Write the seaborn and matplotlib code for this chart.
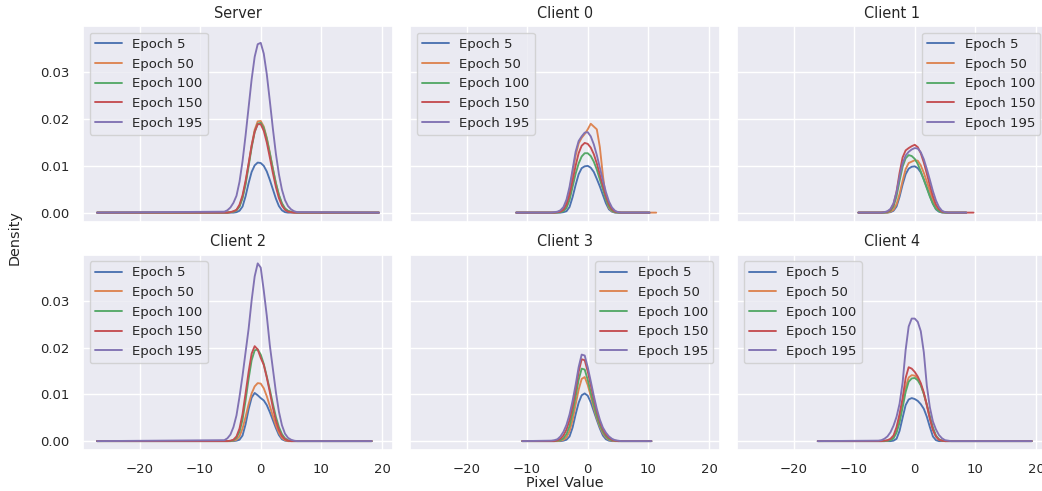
import matplotlib
matplotlib.use('Agg')
import matplotlib.pyplot as plt
import seaborn as sns

panels = ['Server', 'Client 0', 'Client 1', 'Client 2', 'Client 3', 'Client 4']
epochs = [5, 50, 100, 150, 195]
grid = [-6.0, -5.5, -5.0, -4.5, -4.0, -3.5, -3.0, -2.5, -2.0, -1.5, -1.0, -0.5,
        0.0, 0.5, 1.0, 1.5, 2.0, 2.5, 3.0, 3.5, 4.0, 4.5, 5.0, 5.5, 6.0]

# where each curve starts / ends (density ~0 out there)
tail_lo = [-27.0, -11.8, -9.3, -27.0, -10.8, -16.0]
tail_hi = [
    [19.5, 19.5, 19.5, 19.5, 19.5],
    [10.2, 11.3, 10.2, 10.2, 10.2],
    [8.5, 8.5, 8.5, 9.7, 8.5],
    [18.3, 18.3, 18.3, 18.3, 18.3],
    [10.5, 10.5, 10.5, 10.5, 10.5],
    [19.3, 19.3, 19.3, 19.3, 19.3],
]

server = [
    [0, 0, 0, 0, 0.0001, 0.0004, 0.0013, 0.0035, 0.0063, 0.0087, 0.0101, 0.0107, 0.0106,
     0.0100, 0.0088, 0.0070, 0.0050, 0.0030, 0.0014, 0.0005, 0.0001, 0, 0, 0, 0],
    [0, 0, 0.0001, 0.0002, 0.0005, 0.0014, 0.0033, 0.0064, 0.0103, 0.0144, 0.0177, 0.0195, 0.0196,
     0.0184, 0.0160, 0.0128, 0.0094, 0.0063, 0.0037, 0.0019, 0.0008, 0.0003, 0.0001, 0, 0],
    [0, 0, 0.0001, 0.0002, 0.0005, 0.0013, 0.0031, 0.0060, 0.0099, 0.0139, 0.0172, 0.0190, 0.0192,
     0.0181, 0.0158, 0.0127, 0.0094, 0.0063, 0.0038, 0.0020, 0.0009, 0.0004, 0.0002, 0.0001, 0],
    [0, 0, 0.0001, 0.0003, 0.0006, 0.0017, 0.0037, 0.0068, 0.0105, 0.0143, 0.0173, 0.0189, 0.0189,
     0.0175, 0.0150, 0.0118, 0.0085, 0.0055, 0.0031, 0.0015, 0.0006, 0.0002, 0.0001, 0, 0],
    [0.0002, 0.0005, 0.0011, 0.0021, 0.0036, 0.0066, 0.0110, 0.0165, 0.0225, 0.0285, 0.0333, 0.0360, 0.0363,
     0.0340, 0.0296, 0.0239, 0.0180, 0.0126, 0.0082, 0.0049, 0.0027, 0.0014, 0.0007, 0.0003, 0.0001],
]
client0 = [
    [0, 0, 0, 0, 0.0001, 0.0003, 0.0012, 0.0033, 0.0059, 0.0082, 0.0095, 0.0099, 0.0100,
     0.0096, 0.0087, 0.0072, 0.0056, 0.0038, 0.0020, 0.0007, 0.0002, 0, 0, 0, 0],
    [0, 0, 0.0001, 0.0003, 0.0009, 0.0022, 0.0048, 0.0085, 0.0122, 0.0148, 0.0160, 0.0168, 0.0178,
     0.0190, 0.0184, 0.0178, 0.0140, 0.0080, 0.0030, 0.0010, 0.0003, 0.0001, 0, 0, 0],
    [0, 0, 0, 0.0001, 0.0003, 0.0010, 0.0027, 0.0055, 0.0083, 0.0105, 0.0120, 0.0127, 0.0127,
     0.0121, 0.0109, 0.0092, 0.0071, 0.0050, 0.0029, 0.0013, 0.0004, 0.0001, 0, 0, 0],
    [0, 0, 0.0001, 0.0002, 0.0006, 0.0017, 0.0038, 0.0068, 0.0100, 0.0127, 0.0143, 0.0149, 0.0147,
     0.0139, 0.0125, 0.0105, 0.0081, 0.0057, 0.0035, 0.0018, 0.0007, 0.0002, 0.0001, 0, 0],
    [0, 0.0001, 0.0002, 0.0005, 0.0012, 0.0028, 0.0055, 0.0092, 0.0130, 0.0153, 0.0163, 0.0171, 0.0172,
     0.0163, 0.0146, 0.0123, 0.0096, 0.0069, 0.0044, 0.0024, 0.0011, 0.0004, 0.0001, 0, 0],
]
client1 = [
    [0, 0, 0, 0, 0.0001, 0.0004, 0.0013, 0.0034, 0.0060, 0.0082, 0.0094, 0.0098, 0.0099,
     0.0095, 0.0086, 0.0071, 0.0054, 0.0036, 0.0019, 0.0007, 0.0002, 0, 0, 0, 0],
    [0, 0, 0, 0, 0.0002, 0.0006, 0.0018, 0.0040, 0.0068, 0.0093, 0.0106, 0.0109, 0.0112,
     0.0111, 0.0101, 0.0085, 0.0066, 0.0046, 0.0027, 0.0012, 0.0004, 0.0001, 0, 0, 0],
    [0, 0, 0, 0.0001, 0.0004, 0.0013, 0.0035, 0.0068, 0.0098, 0.0116, 0.0123, 0.0121, 0.0115,
     0.0104, 0.0088, 0.0070, 0.0052, 0.0034, 0.0019, 0.0008, 0.0003, 0.0001, 0, 0, 0],
    [0, 0, 0.0001, 0.0002, 0.0006, 0.0018, 0.0045, 0.0085, 0.0118, 0.0133, 0.0138, 0.0142, 0.0145,
     0.0140, 0.0127, 0.0107, 0.0083, 0.0058, 0.0035, 0.0017, 0.0007, 0.0002, 0.0001, 0, 0],
    [0, 0, 0.0001, 0.0003, 0.0008, 0.0020, 0.0044, 0.0077, 0.0105, 0.0122, 0.0130, 0.0135, 0.0138,
     0.0137, 0.0129, 0.0114, 0.0093, 0.0070, 0.0046, 0.0026, 0.0012, 0.0004, 0.0001, 0, 0],
]
client2 = [
    [0, 0, 0, 0, 0.0001, 0.0003, 0.0012, 0.0036, 0.0068, 0.0093, 0.0103, 0.0098, 0.0092,
     0.0087, 0.0077, 0.0062, 0.0045, 0.0028, 0.0013, 0.0004, 0.0001, 0, 0, 0, 0],
    [0, 0, 0, 0.0001, 0.0003, 0.0010, 0.0027, 0.0052, 0.0079, 0.0102, 0.0117, 0.0124, 0.0123,
     0.0113, 0.0096, 0.0075, 0.0054, 0.0034, 0.0018, 0.0007, 0.0002, 0, 0, 0, 0],
    [0, 0, 0, 0.0002, 0.0007, 0.0020, 0.0046, 0.0087, 0.0133, 0.0173, 0.0194, 0.0196, 0.0185,
     0.0165, 0.0138, 0.0110, 0.0080, 0.0052, 0.0030, 0.0015, 0.0006, 0.0002, 0, 0, 0],
    [0, 0, 0.0001, 0.0003, 0.0010, 0.0027, 0.0058, 0.0102, 0.0148, 0.0187, 0.0203, 0.0196, 0.0178,
     0.0163, 0.0136, 0.0105, 0.0072, 0.0044, 0.0024, 0.0011, 0.0004, 0.0001, 0, 0, 0],
    [0.0002, 0.0006, 0.0014, 0.0030, 0.0055, 0.0095, 0.0140, 0.0190, 0.0240, 0.0301, 0.0352, 0.0380, 0.0371,
     0.0322, 0.0268, 0.0205, 0.0155, 0.0105, 0.0063, 0.0034, 0.0016, 0.0007, 0.0003, 0.0001, 0],
]
client3 = [
    [0, 0, 0, 0, 0.0001, 0.0003, 0.0010, 0.0029, 0.0057, 0.0082, 0.0098, 0.0102, 0.0097,
     0.0083, 0.0064, 0.0045, 0.0027, 0.0012, 0.0004, 0.0001, 0, 0, 0, 0, 0],
    [0, 0, 0, 0.0001, 0.0003, 0.0008, 0.0021, 0.0045, 0.0078, 0.0110, 0.0133, 0.0137, 0.0120,
     0.0096, 0.0071, 0.0049, 0.0031, 0.0017, 0.0008, 0.0003, 0.0001, 0, 0, 0, 0],
    [0, 0, 0.0001, 0.0002, 0.0006, 0.0015, 0.0032, 0.0060, 0.0095, 0.0131, 0.0155, 0.0153, 0.0131,
     0.0104, 0.0077, 0.0053, 0.0034, 0.0020, 0.0010, 0.0004, 0.0002, 0.0001, 0, 0, 0],
    [0, 0, 0.0002, 0.0005, 0.0012, 0.0025, 0.0045, 0.0074, 0.0110, 0.0148, 0.0175, 0.0173, 0.0149,
     0.0120, 0.0090, 0.0063, 0.0041, 0.0025, 0.0014, 0.0007, 0.0003, 0.0001, 0, 0, 0],
    [0.0001, 0.0002, 0.0004, 0.0010, 0.0020, 0.0035, 0.0057, 0.0086, 0.0120, 0.0158, 0.0185, 0.0183, 0.0158,
     0.0128, 0.0097, 0.0069, 0.0046, 0.0029, 0.0018, 0.0010, 0.0005, 0.0002, 0.0001, 0, 0],
]
client4 = [
    [0, 0, 0, 0, 0, 0.0001, 0.0005, 0.0022, 0.0050, 0.0077, 0.0089, 0.0092, 0.0090,
     0.0086, 0.0079, 0.0069, 0.0052, 0.0030, 0.0010, 0.0002, 0, 0, 0, 0, 0],
    [0, 0, 0, 0.0001, 0.0003, 0.0008, 0.0022, 0.0047, 0.0080, 0.0115, 0.0136, 0.0141, 0.0140,
     0.0134, 0.0121, 0.0101, 0.0076, 0.0049, 0.0025, 0.0010, 0.0003, 0.0001, 0, 0, 0],
    [0, 0, 0, 0.0001, 0.0002, 0.0006, 0.0018, 0.0040, 0.0072, 0.0105, 0.0127, 0.0134, 0.0135,
     0.0130, 0.0119, 0.0101, 0.0078, 0.0053, 0.0029, 0.0012, 0.0004, 0.0001, 0, 0, 0],
    [0, 0, 0.0001, 0.0002, 0.0005, 0.0012, 0.0030, 0.0058, 0.0092, 0.0135, 0.0158, 0.0155, 0.0148,
     0.0138, 0.0124, 0.0104, 0.0077, 0.0048, 0.0024, 0.0010, 0.0003, 0.0001, 0, 0, 0],
    [0.0001, 0.0002, 0.0005, 0.0010, 0.0019, 0.0033, 0.0052, 0.0080, 0.0125, 0.0195, 0.0245, 0.0262, 0.0262,
     0.0255, 0.0235, 0.0190, 0.0118, 0.0072, 0.0042, 0.0025, 0.0013, 0.0006, 0.0002, 0.0001, 0],
]
densities = [server, client0, client1, client2, client3, client4]
legend_loc = ['upper left', 'upper left', 'upper right', 'upper left', 'upper right', 'upper left']

# the reference looks like a seaborn default figure shrunk by ~0.87
sns.set_theme(font_scale=0.87)
colors = sns.color_palette('deep', len(epochs))

fig, axes = plt.subplots(2, 3, figsize=(10.42, 4.91), dpi=100, sharex=True, sharey=True)
fig.subplots_adjust(left=83 / 1042, right=1047 / 1042, top=1 - 26 / 491, bottom=1 - 450 / 491,
                    wspace=17 / 310, hspace=33 / 195.5)

for i, ax in enumerate(axes.flat):
    for j, ep in enumerate(epochs):
        xs = [tail_lo[i]] + grid + [tail_hi[i][j]]
        ys = [0.0] + densities[i][j] + [0.0]
        sns.lineplot(x=xs, y=ys, color=colors[j], linewidth=1.35, label=f'Epoch {ep}', ax=ax)
    ax.set_title(panels[i])
    ax.set_xlabel('')
    ax.set_ylabel('')
    ax.legend(loc=legend_loc[i])

fig.text(565 / 1042, 1 - 483 / 491, 'Pixel Value', ha='center', va='center', fontsize=10.4)
fig.text(15 / 1042, 1 - 238 / 491, 'Density', ha='center', va='center', rotation=90, fontsize=10.4)

fig.savefig('out.png', dpi=100)
